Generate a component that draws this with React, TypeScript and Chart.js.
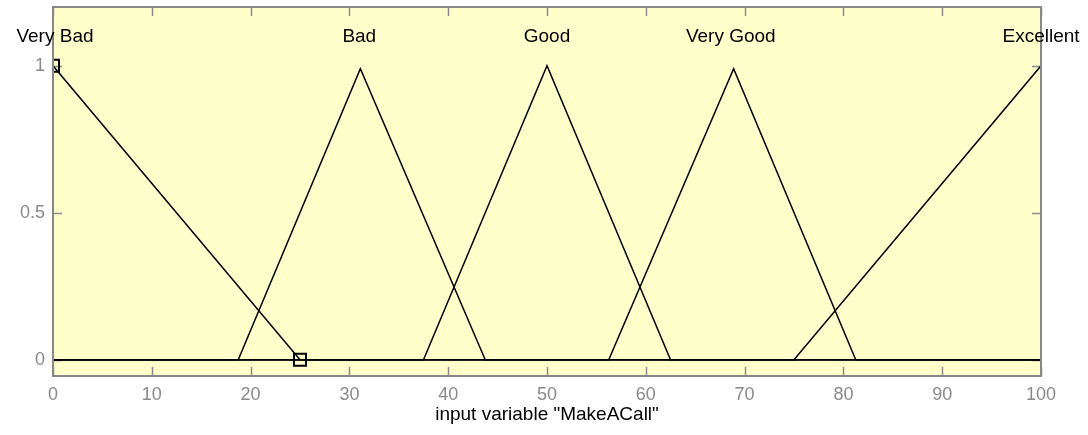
import React, { useEffect, useRef } from "react";
import { Chart, registerables } from "chart.js";

Chart.register(...registerables);

// Membership functions of input variable "MakeACall"
const mfNames = ["Very Bad", "Bad", "Good", "Very Good", "Excellent"];
const veryBadX = [0, 25, 100];
const veryBadY = [1, 0, 0];
const badX = [0, 18.75, 31.11, 43.75, 100];
const badY = [0, 0, 0.99, 0, 0];
const goodX = [0, 37.5, 50, 62.5, 100];
const goodY = [0, 0, 1, 0, 0];
const veryGoodX = [0, 56.25, 68.89, 81.25, 100];
const veryGoodY = [0, 0, 0.99, 0, 0];
const excellentX = [0, 75, 100];
const excellentY = [0, 0, 1];

// label anchor positions (x) and height (y)
const labelX = [0.2, 31, 50, 68.6, 100];
const labelY = 1.1;

// selected MF markers
const markerX = [0, 25];
const markerY = [1, 0];

const xTicks = [0, 10, 20, 30, 40, 50, 60, 70, 80, 90, 100];
const yTicks = [0, 0.5, 1];
const xTitle = 'input variable "MakeACall"';

const FONT = '"Liberation Sans", Arial, sans-serif';

const zip = (xs: number[], ys: number[]) => xs.map((x, i) => ({ x, y: ys[i] }));

export default function App() {
  const ref = useRef<HTMLCanvasElement | null>(null);

  useEffect(() => {
    if (!ref.current) return;
    const mfX = [veryBadX, badX, goodX, veryGoodX, excellentX];
    const mfY = [veryBadY, badY, goodY, veryGoodY, excellentY];

    const framePlugin = {
      id: "frame",
      beforeDatasetsDraw(chart: any) {
        const { ctx, chartArea: a, scales } = chart;
        const xs = scales.x;
        const ys = scales.y;
        ctx.save();
        ctx.fillStyle = "rgb(255,255,204)";
        ctx.fillRect(a.left, a.top, a.right - a.left, a.bottom - a.top);
        ctx.strokeStyle = "#8a8a8a";
        ctx.lineWidth = 1.5;
        const tl = 9;
        ctx.beginPath();
        xTicks.forEach((t) => {
          const px = Math.round(xs.getPixelForValue(t)) + 0.5;
          ctx.moveTo(px, a.bottom);
          ctx.lineTo(px, a.bottom - tl);
          ctx.moveTo(px, a.top);
          ctx.lineTo(px, a.top + tl);
        });
        yTicks.forEach((t) => {
          const py = Math.round(ys.getPixelForValue(t)) + 0.5;
          ctx.moveTo(a.left, py);
          ctx.lineTo(a.left + tl, py);
          ctx.moveTo(a.right, py);
          ctx.lineTo(a.right - tl, py);
        });
        ctx.stroke();
        ctx.restore();
      },
      afterDatasetsDraw(chart: any) {
        const { ctx, chartArea: a, scales } = chart;
        const xs = scales.x;
        const ys = scales.y;
        ctx.save();
        ctx.lineWidth = 2;
        ctx.strokeStyle = "#888888";
        ctx.strokeRect(a.left, a.top, a.right - a.left, a.bottom - a.top);
        // MF names
        ctx.fillStyle = "#000";
        ctx.font = `19px ${FONT}`;
        ctx.textAlign = "center";
        ctx.textBaseline = "middle";
        mfNames.forEach((n, i) => {
          ctx.fillText(n, xs.getPixelForValue(labelX[i]), ys.getPixelForValue(labelY));
        });
        ctx.restore();
      },
    };

    const datasets: any[] = mfNames.map((n, i) => ({
      label: n,
      data: zip(mfX[i], mfY[i]),
      borderColor: "#000",
      borderWidth: 1.5,
      pointRadius: 0,
      showLine: true,
      fill: false,
      tension: 0,
    }));
    datasets.push({
      label: "selected",
      data: zip(markerX, markerY),
      showLine: false,
      pointStyle: "rect",
      pointRadius: 8.5,
      pointBorderColor: "#000",
      pointBackgroundColor: "rgba(0,0,0,0)",
      pointBorderWidth: 2,
    });

    const chart = new Chart(ref.current, {
      type: "scatter",
      data: { datasets },
      plugins: [framePlugin],
      options: {
        animation: false,
        responsive: false,
        events: [],
        layout: { autoPadding: false, padding: { left: 0, right: 47, top: 7, bottom: 0 } },
        plugins: { legend: { display: false }, tooltip: { enabled: false } },
        scales: {
          x: {
            type: "linear",
            min: 0,
            max: 100,
            afterBuildTicks: (s: any) => {
              s.ticks = xTicks.map((v) => ({ value: v }));
            },
            afterFit: (s: any) => {
              s.height = 59;
              s.paddingLeft = 0;
              s.paddingRight = 0;
            },
            grid: { display: false, drawTicks: false },
            border: { display: false },
            ticks: {
              color: "#8a8a8a",
              font: { family: FONT, size: 18 },
              padding: 8,
              maxRotation: 0,
              autoSkip: false,
            },
            title: {
              display: true,
              text: xTitle,
              color: "#000",
              font: { family: FONT, size: 19 },
              padding: { top: 0, bottom: 9 },
            },
          },
          y: {
            type: "linear",
            min: -0.055,
            max: 1.2,
            afterBuildTicks: (s: any) => {
              s.ticks = yTicks.map((v) => ({ value: v }));
            },
            afterFit: (s: any) => {
              s.width = 53;
              s.paddingTop = 0;
              s.paddingBottom = 0;
            },
            grid: { display: false, drawTicks: false },
            border: { display: false },
            ticks: {
              color: "#8a8a8a",
              font: { family: FONT, size: 18 },
              padding: 8,
              callback: (v: any) => String(v),
            },
          },
        },
      },
    });
    return () => chart.destroy();
  }, []);

  return (
    <div style={{ position: "fixed", left: 0, top: 0, width: 1088, height: 435, background: "#fff" }}>
      <canvas ref={ref} width={1088} height={435} style={{ display: "block", width: 1088, height: 435 }} />
    </div>
  );
}
